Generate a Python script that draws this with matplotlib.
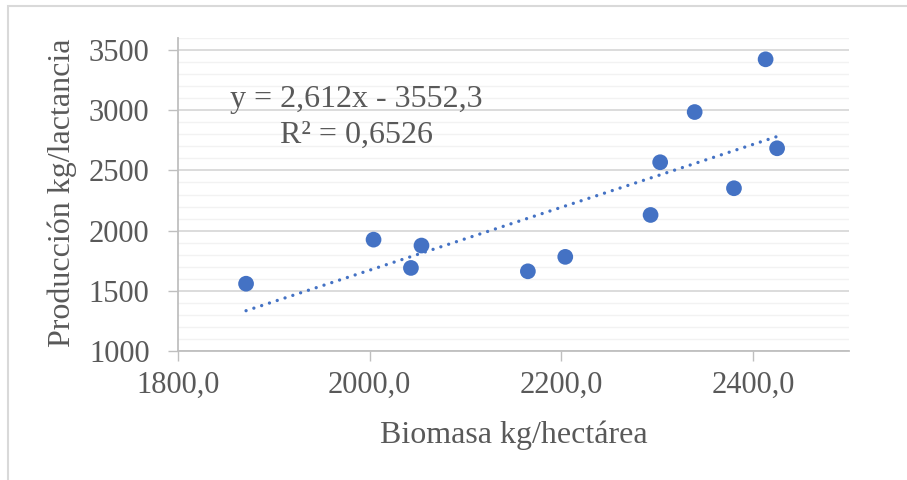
import matplotlib
matplotlib.use("Agg")
import matplotlib.pyplot as plt
from matplotlib.ticker import MultipleLocator, FixedLocator
from matplotlib.patches import Rectangle

# Data
biomasa = [1871, 2004, 2043, 2054, 2165, 2204, 2293, 2303, 2339, 2380, 2413, 2425]
produccion = [1559, 1925, 1690, 1876, 1662, 1782, 2130, 2568, 2985, 2352, 3423, 2684]
slope = 2.612
intercept = -3552.3
r2_text = "0,6526"
x_ticks = [1800, 2000, 2200, 2400]
x_tick_labels = ["1800,0", "2000,0", "2200,0", "2400,0"]
y_ticks = [1000, 1500, 2000, 2500, 3000, 3500]

plt.rcParams['font.family'] = ['Liberation Serif', 'DejaVu Serif']

TXT = '#595959'
BLUE = '#4472C4'

fig = plt.figure(figsize=(9.07, 4.80), dpi=100)
W, H = 907, 480
ax = fig.add_axes([178 / W, 1 - 351 / H, (849 - 178) / W, (351 - 38) / H])

# chart-area border (left/top visible)
fig.patches.append(Rectangle((8 / W, -0.1), 1.2, 1 - 6 / H + 0.1, transform=fig.transFigure,
                             fill=False, edgecolor='#d9d9d9', linewidth=1.5))

ax.set_xlim(1800, 2500)
ax.set_ylim(1000, 3600)

ax.yaxis.set_major_locator(FixedLocator(y_ticks))
ax.yaxis.set_minor_locator(MultipleLocator(100))
ax.xaxis.set_major_locator(FixedLocator(x_ticks))
ax.set_xticklabels(x_tick_labels)

ax.grid(which='major', axis='y', color='#d9d9d9', linewidth=1.3, zorder=0)
ax.grid(which='minor', axis='y', color='#f2f2f2', linewidth=1.0, zorder=0)
ax.set_axisbelow(True)

for s in ['top', 'right']:
    ax.spines[s].set_visible(False)
for s in ['left', 'bottom']:
    ax.spines[s].set_color('#bfbfbf')
    ax.spines[s].set_linewidth(1.3)

ax.tick_params(axis='both', which='major', color='#bfbfbf', length=7.5, width=1.0,
               labelsize=22, labelcolor=TXT)
ax.tick_params(axis='y', which='major', pad=13)
ax.tick_params(axis='x', which='major', pad=7)
ax.tick_params(which='minor', length=0)

# trendline from the fitted equation
xmin, xmax = min(biomasa), max(biomasa)
ax.plot([xmin, xmax], [slope * xmin + intercept, slope * xmax + intercept],
        color=BLUE, linewidth=2.4, linestyle=(0, (0.01, 2.45)),
        dash_capstyle='round', zorder=2)

ax.scatter(biomasa, produccion, s=128, color=BLUE, edgecolors='none', zorder=3)

ax.text(1986.5, 3029, "y = 2,612x - 3552,3", ha='center', va='baseline',
        fontsize=23, color=TXT)
ax.text(1986.5, 2728, "R² = " + r2_text, ha='center', va='baseline',
        fontsize=23, color=TXT)

ax.set_xlabel("Biomasa kg/hectárea", fontsize=23, color=TXT)
ax.xaxis.label.set_va('baseline')
ax.xaxis.set_label_coords(0.5, -0.295)
ax.set_ylabel("Producción kg/lactancia", fontsize=23, color=TXT)
ax.yaxis.set_label_coords(-0.150, 0.505)

fig.savefig("out.png", dpi=100)
